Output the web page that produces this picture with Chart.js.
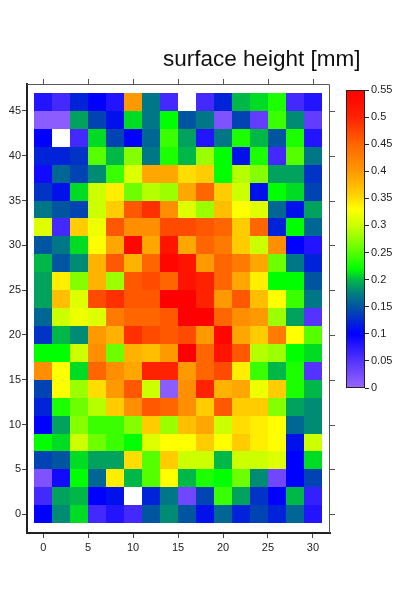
<!DOCTYPE html>
<html>
<head>
<meta charset="utf-8">
<script src="https://cdn.jsdelivr.net/npm/chart.js@4.4.1/dist/chart.umd.min.js"></script>
<style>
  html, body { margin: 0; padding: 0; background: #fff; }
  #wrap { position: relative; width: 400px; height: 600px; }
  #heat { position: absolute; left: 0; top: 0; }
  #cbar { position: absolute; left: 330px; top: 80px; }
  #title {
    position: absolute; left: 163px; top: 48px;
    font: 22.5px "Liberation Sans", Arial, sans-serif; line-height: 1;
    color: #111; white-space: nowrap;
  }
</style>
</head>
<body>
<div id="wrap">
  <canvas id="heat" width="400" height="600"></canvas>
  <canvas id="cbar" width="70" height="320"></canvas>
  <div id="title">surface height [mm]</div>
</div>
<script>
// cell centres
const xCenters = [0, 2, 4, 6, 8, 10, 12, 14, 16, 18, 20, 22, 24, 26, 28, 30];
const yCenters = [46, 44, 42, 40, 38, 36, 34, 32, 30, 28, 26, 24, 22, 20, 18, 16, 14, 12, 10, 8, 6, 4, 2, 0];

// surface height [mm], one row per y centre (top row first), null = no reading
const heights = [
  [0.08, 0.06, 0.12, 0.10, 0.08, 0.40, 0.17, 0.06, null, 0.06, 0.12, 0.20, 0.21, 0.23, 0.06, 0.08],
  [0.01, 0.01, 0.19, 0.14, 0.11, 0.21, 0.17, 0.22, 0.15, 0.17, 0.02, 0.14, 0.04, 0.24, 0.18, 0.04],
  [0.10, null, 0.06, 0.21, 0.14, 0.10, 0.16, 0.24, 0.19, 0.08, 0.17, 0.23, 0.20, 0.15, 0.23, 0.08],
  [0.12, 0.12, 0.13, 0.25, 0.20, 0.27, 0.17, 0.23, 0.20, 0.28, 0.22, 0.11, 0.23, 0.06, 0.25, 0.17],
  [0.09, 0.16, 0.14, 0.18, 0.24, 0.31, 0.39, 0.39, 0.35, 0.36, 0.22, 0.29, 0.27, 0.19, 0.19, 0.13],
  [0.13, 0.11, 0.21, 0.30, 0.34, 0.26, 0.29, 0.28, 0.39, 0.45, 0.36, 0.30, 0.11, 0.22, 0.21, 0.14],
  [0.17, 0.15, 0.14, 0.30, 0.36, 0.46, 0.49, 0.41, 0.31, 0.28, 0.37, 0.33, 0.31, 0.16, 0.11, 0.19],
  [0.31, 0.06, 0.36, 0.32, 0.46, 0.41, 0.41, 0.47, 0.47, 0.46, 0.45, 0.36, 0.45, 0.12, 0.22, 0.16],
  [0.15, 0.17, 0.21, 0.33, 0.39, 0.54, 0.39, 0.52, 0.39, 0.45, 0.43, 0.36, 0.30, 0.41, 0.10, 0.08],
  [0.20, 0.15, 0.18, 0.38, 0.46, 0.38, 0.45, 0.54, 0.52, 0.40, 0.45, 0.43, 0.39, 0.26, 0.17, 0.12],
  [0.19, 0.34, 0.27, 0.38, 0.28, 0.46, 0.47, 0.45, 0.52, 0.50, 0.45, 0.39, 0.34, 0.22, 0.22, 0.15],
  [0.19, 0.37, 0.31, 0.47, 0.49, 0.46, 0.46, 0.55, 0.55, 0.50, 0.40, 0.46, 0.37, 0.33, 0.24, 0.17],
  [0.16, 0.30, 0.32, 0.31, 0.43, 0.45, 0.45, 0.46, 0.55, 0.55, 0.45, 0.41, 0.40, 0.28, 0.19, 0.05],
  [0.13, 0.20, 0.18, 0.40, 0.38, 0.49, 0.47, 0.46, 0.47, 0.40, 0.54, 0.39, 0.36, 0.43, 0.33, 0.25],
  [0.22, 0.22, 0.30, 0.41, 0.26, 0.38, 0.37, 0.40, 0.55, 0.45, 0.52, 0.46, 0.29, 0.28, 0.22, 0.21],
  [0.41, 0.33, 0.21, 0.45, 0.41, 0.39, 0.50, 0.50, 0.40, 0.45, 0.47, 0.34, 0.24, 0.20, 0.23, 0.05],
  [0.14, 0.33, 0.28, 0.35, 0.40, 0.46, 0.30, 0.01, 0.41, 0.50, 0.38, 0.39, 0.32, 0.36, 0.23, 0.20],
  [0.12, 0.23, 0.26, 0.29, 0.36, 0.41, 0.46, 0.45, 0.41, 0.36, 0.46, 0.36, 0.36, 0.27, 0.19, 0.18],
  [0.10, 0.19, 0.27, 0.24, 0.24, 0.27, 0.36, 0.28, 0.37, 0.39, 0.30, 0.35, 0.34, 0.33, 0.16, 0.18],
  [0.22, 0.21, 0.30, 0.26, 0.24, 0.22, 0.31, 0.33, 0.33, 0.36, 0.33, 0.36, 0.34, 0.33, 0.11, 0.30],
  [0.14, 0.15, 0.21, 0.19, 0.19, 0.35, 0.25, 0.36, 0.30, 0.30, 0.20, 0.30, 0.30, 0.31, 0.10, 0.21],
  [0.02, 0.09, 0.22, 0.16, 0.34, 0.20, 0.25, 0.33, 0.20, 0.23, 0.22, 0.26, 0.18, 0.03, 0.10, 0.14],
  [0.06, 0.19, 0.20, 0.10, 0.11, null, 0.12, 0.17, 0.03, 0.14, 0.24, 0.19, 0.13, 0.10, 0.20, 0.07],
  [0.10, 0.18, 0.21, 0.06, 0.08, 0.06, 0.15, 0.18, 0.15, 0.11, 0.16, 0.12, 0.14, 0.12, 0.16, 0.08]
];

const xTickVals = [0, 5, 10, 15, 20, 25, 30];
const yTickVals = [0, 5, 10, 15, 20, 25, 30, 35, 40, 45];
const barTickVals = [0, 0.05, 0.1, 0.15, 0.2, 0.25, 0.3, 0.35, 0.4, 0.45, 0.5, 0.55];

// colour map
const cmap = [
  [0.00, '#9966ff'], [0.05, '#5533ff'], [0.10, '#0000ff'], [0.15, '#0055a0'],
  [0.175, '#008080'], [0.20, '#00b848'], [0.22, '#00ff00'], [0.25, '#55ff00'],
  [0.30, '#ccff00'], [0.33, '#ffff00'], [0.36, '#ffcc00'], [0.40, '#ff9900'],
  [0.45, '#ff6600'], [0.50, '#ff2200'], [0.55, '#ff0000']
];
const CELL_HALF = 1;
const TICK_LEN = 5;

function hexRgb(h) {
  return [parseInt(h.slice(1, 3), 16), parseInt(h.slice(3, 5), 16), parseInt(h.slice(5, 7), 16)];
}
function colorFor(v) {
  if (v <= cmap[0][0]) return cmap[0][1];
  for (let i = 1; i < cmap.length; i++) {
    if (v <= cmap[i][0]) {
      const t = (v - cmap[i - 1][0]) / (cmap[i][0] - cmap[i - 1][0]);
      const a = hexRgb(cmap[i - 1][1]), b = hexRgb(cmap[i][1]);
      const c = a.map((k, j) => Math.round(k + (b[j] - k) * t));
      return 'rgb(' + c.join(',') + ')';
    }
  }
  return cmap[cmap.length - 1][1];
}

const cells = [];
yCenters.forEach((y, r) => {
  xCenters.forEach((x, c) => cells.push({ x: x, y: y, v: heights[r][c] }));
});

Chart.defaults.font.family = '"Liberation Sans", Arial, sans-serif';
Chart.defaults.font.size = 11;
Chart.defaults.color = '#222';

const cellPlugin = {
  id: 'cells',
  beforeDatasetsDraw(chart) {
    const { ctx, scales } = chart;
    const sx = scales.x, sy = scales.y;
    ctx.save();
    chart.data.datasets[0].data.forEach(p => {
      if (p.v === null) return;
      const x0 = Math.round(sx.getPixelForValue(p.x - CELL_HALF));
      const x1 = Math.round(sx.getPixelForValue(p.x + CELL_HALF));
      const y0 = Math.round(sy.getPixelForValue(p.y + CELL_HALF));
      const y1 = Math.round(sy.getPixelForValue(p.y - CELL_HALF));
      ctx.fillStyle = colorFor(p.v);
      ctx.fillRect(x0, y0, x1 - x0, y1 - y0);
    });
    ctx.restore();
  }
};

// top and right frame, with the same ticks mirrored outward
const mirrorPlugin = {
  id: 'mirror',
  afterDraw(chart) {
    const { ctx, chartArea: a, scales } = chart;
    ctx.save();
    ctx.strokeStyle = '#555';
    ctx.lineWidth = 1;
    ctx.beginPath();
    ctx.moveTo(a.left, a.top + 0.5);
    ctx.lineTo(a.right - 0.5, a.top + 0.5);
    ctx.lineTo(a.right - 0.5, a.bottom);
    scales.x.ticks.forEach(t => {
      const px = Math.round(scales.x.getPixelForValue(t.value)) + 0.5;
      ctx.moveTo(px, a.top);
      ctx.lineTo(px, a.top - TICK_LEN);
    });
    scales.y.ticks.forEach(t => {
      const py = Math.round(scales.y.getPixelForValue(t.value)) + 0.5;
      ctx.moveTo(a.right, py);
      ctx.lineTo(a.right + TICK_LEN, py);
    });
    ctx.stroke();
    ctx.restore();
  }
};

function setTicks(vals) {
  return scale => { scale.ticks = vals.map(v => ({ value: v })); };
}

new Chart(document.getElementById('heat'), {
  type: 'scatter',
  data: { datasets: [{ data: cells, pointRadius: 0, pointHoverRadius: 0 }] },
  options: {
    responsive: false,
    devicePixelRatio: 1,
    animation: false,
    events: [],
    layout: { padding: { left: 0, top: 84, right: 70, bottom: 42 } },
    plugins: { legend: { display: false }, tooltip: { enabled: false } },
    scales: {
      x: {
        type: 'linear', position: 'bottom', min: -1.8, max: 31.9,
        afterBuildTicks: setTicks(xTickVals),
        afterFit: s => { s.height = 25; },
        grid: { drawOnChartArea: false, tickLength: TICK_LEN, tickColor: '#444' },
        border: { display: true, color: '#222', width: 2 },
        ticks: { padding: 3, maxRotation: 0 }
      },
      y: {
        type: 'linear', position: 'left', min: -2.1, max: 48.0,
        afterBuildTicks: setTicks(yTickVals),
        afterFit: s => { s.width = 27; },
        grid: { drawOnChartArea: false, tickLength: TICK_LEN, tickColor: '#444' },
        border: { display: true, color: '#222', width: 2 },
        ticks: { padding: 1 }
      }
    }
  },
  plugins: [cellPlugin, mirrorPlugin]
});

// colour bar
const barPlugin = {
  id: 'colourBar',
  beforeDatasetsDraw(chart) {
    const { ctx, chartArea: a, scales } = chart;
    const sy = scales.y;
    const g = ctx.createLinearGradient(0, sy.getPixelForValue(0), 0, sy.getPixelForValue(0.55));
    cmap.forEach(([v, c]) => g.addColorStop(v / 0.55, c));
    ctx.save();
    ctx.fillStyle = g;
    ctx.fillRect(a.left, a.top, a.right - a.left, a.bottom - a.top);
    ctx.strokeStyle = '#222';
    ctx.lineWidth = 1;
    ctx.strokeRect(a.left + 0.5, a.top + 0.5, a.right - a.left - 1, a.bottom - a.top - 1);
    ctx.restore();
  }
};

new Chart(document.getElementById('cbar'), {
  type: 'scatter',
  data: { datasets: [{ data: [], pointRadius: 0 }] },
  options: {
    responsive: false,
    devicePixelRatio: 1,
    animation: false,
    events: [],
    layout: { padding: { left: 16, top: 10, right: 0, bottom: 12 } },
    plugins: { legend: { display: false }, tooltip: { enabled: false } },
    scales: {
      x: { display: false, min: 0, max: 1 },
      y: {
        type: 'linear', position: 'right', min: 0, max: 0.55,
        afterBuildTicks: setTicks(barTickVals),
        afterFit: s => { s.width = 35; },
        grid: { drawOnChartArea: false, drawTicks: true, tickLength: 4, tickColor: '#222' },
        border: { display: false },
        ticks: { padding: 2, callback: v => String(Math.round(v * 100) / 100) }
      }
    }
  },
  plugins: [barPlugin]
});
</script>
</body>
</html>
